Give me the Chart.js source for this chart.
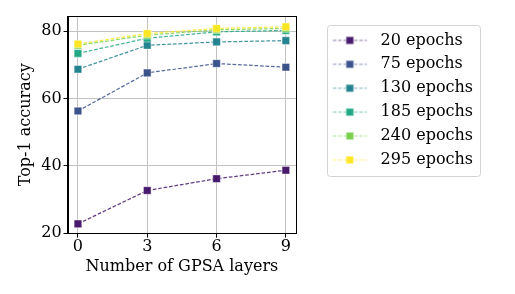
<!DOCTYPE html>
<html>
<head>
<meta charset="utf-8">
<script src="https://cdn.jsdelivr.net/npm/chart.js@4.4.0/dist/chart.umd.min.js"></script>
<style>
  html, body { margin: 0; padding: 0; background: #fff; }
  #wrap { width: 515px; height: 294px; }
</style>
</head>
<body>
<div id="wrap"><canvas id="chart" width="515" height="294"></canvas></div>
<script>
// x values (number of GPSA layers)
const layers = [0, 3, 6, 9];
const xTicks = [0, 3, 6, 9];
const yTicks = [20, 40, 60, 80];

const seriesNames = ['20 epochs', '75 epochs', '130 epochs', '185 epochs', '240 epochs', '295 epochs'];
const acc20 = [22.8, 32.7, 36.2, 38.7];
const acc75 = [56.3, 67.6, 70.4, 69.3];
const acc130 = [68.7, 75.8, 76.8, 77.2];
const acc185 = [73.4, 77.9, 79.8, 80.2];
const acc240 = [75.8, 78.8, 80.4, 80.8];
const acc295 = [76.2, 79.3, 80.8, 81.3];
const seriesColors = ['#471a6c', '#3b528b', '#23838e', '#22a884', '#7ad151', '#fde725'];

const allSeries = [acc20, acc75, acc130, acc185, acc240, acc295];
const FONT = "'DejaVu Serif', 'Liberation Serif', serif";

Chart.defaults.font.family = FONT;
Chart.defaults.font.size = 16;
Chart.defaults.color = '#000';

function hexA(hex, a) {
  const n = parseInt(hex.slice(1), 16);
  return `rgba(${n >> 16}, ${(n >> 8) & 255}, ${n & 255}, ${a})`;
}

// legend marker: dashed line with a square in the middle
const LEG_W = 100, LEG_H = 12, LEG_CX = 61.5;
function legendMarker(color) {
  const c = document.createElement('canvas');
  c.width = LEG_W; c.height = LEG_H;
  const g = c.getContext('2d');
  g.strokeStyle = hexA(color, 0.6);
  g.lineWidth = 1.2;
  g.setLineDash([3.5, 1.8]);
  g.beginPath();
  g.moveTo(LEG_CX - 17, LEG_H / 2);
  g.lineTo(LEG_CX + 17, LEG_H / 2);
  g.stroke();
  g.setLineDash([]);
  g.fillStyle = color;
  g.fillRect(LEG_CX - 3.8, LEG_H / 2 - 3.8, 7.6, 7.6);
  g.strokeStyle = 'rgba(255,255,255,0.5)';
  g.lineWidth = 1;
  g.strokeRect(LEG_CX - 3.8, LEG_H / 2 - 3.8, 7.6, 7.6);
  return c;
}
const markers = seriesColors.map(legendMarker);

const datasets = allSeries.map((vals, i) => ({
  label: seriesNames[i],
  data: vals.map((v, j) => ({ x: layers[j], y: v })),
  borderColor: hexA(seriesColors[i], 0.85),
  borderWidth: 1.25,
  borderDash: [3.7, 1.8],
  pointStyle: 'rect',
  pointRadius: 5.4,
  pointBackgroundColor: seriesColors[i],
  pointBorderColor: 'rgba(255,255,255,0.45)',
  pointBorderWidth: 1,
  order: allSeries.length - 1 - i,
  fill: false,
  tension: 0
}));

// let the legend be as wide as its labels (layout caps it at a quarter of the width otherwise)
const legendWidthPlugin = {
  id: 'legendWidth',
  beforeUpdate(chart) {
    const lg = chart.legend;
    if (!lg || lg._widthPatched) return;
    const fit = lg.fit.bind(lg);
    lg.fit = function () {
      this.maxWidth = 400;
      fit();
      if (this.columnSizes && this.columnSizes.length) {
        this.width = this.options.labels.padding + this.columnSizes[0].width;
      }
    };
    lg._widthPatched = true;
  }
};

// top/right spines and legend frame
const framePlugin = {
  id: 'frame',
  beforeDraw(chart) {
    const lg = chart.legend;
    if (!lg || !lg.legendHitBoxes.length) return;
    const hb = lg.legendHitBoxes;
    const left = hb[0].left + 23;
    const top = hb[0].top - 7.5;
    const last = hb[hb.length - 1];
    const right = Math.max(...hb.map(h => h.left + h.width)) + 7;
    const bottom = last.top + last.height + 7.5;
    const ctx = chart.ctx;
    ctx.save();
    ctx.fillStyle = '#fff';
    ctx.strokeStyle = '#d4d4d4';
    ctx.lineWidth = 1;
    ctx.beginPath();
    ctx.roundRect(Math.round(left) + 0.5, Math.round(top) + 0.5, Math.round(right - left), Math.round(bottom - top), 3);
    ctx.fill();
    ctx.stroke();
    ctx.restore();
  },
  afterDraw(chart) {
    const a = chart.chartArea;
    const ctx = chart.ctx;
    ctx.save();
    ctx.strokeStyle = '#000';
    ctx.lineWidth = 1;
    ctx.strokeRect(Math.round(a.left) + 0.5, Math.round(a.top) + 0.5,
      Math.round(a.right - a.left) - 1, Math.round(a.bottom - a.top) - 1);
    ctx.restore();
  }
};

new Chart(document.getElementById('chart'), {
  type: 'line',
  data: { datasets },
  options: {
    responsive: false,
    animation: false,
    layout: { padding: { left: 10, right: 42, top: 16, bottom: 18 } },
    plugins: {
      tooltip: { enabled: false },
      legend: {
        position: 'right',
        align: 'start',
        title: { display: true, text: '', padding: { top: 7.5, bottom: 0 }, font: { size: 1, lineHeight: 1 } },
        labels: {
          usePointStyle: true,
          pointStyleWidth: 68.4,
          padding: 7.9,
          font: { size: 16 },
          color: '#000',
          sort: (a, b) => a.datasetIndex - b.datasetIndex,
          generateLabels(chart) {
            const items = Chart.defaults.plugins.legend.labels.generateLabels(chart);
            items.forEach(it => { it.pointStyle = markers[it.datasetIndex]; });
            return items;
          }
        }
      }
    },
    scales: {
      x: {
        type: 'linear',
        min: -0.45,
        max: 9.45,
        afterBuildTicks: axis => { axis.ticks = xTicks.map(v => ({ value: v })); },
        ticks: { padding: 0, font: { size: 16 }, maxRotation: 0 },
        grid: { color: '#c2c2c2', lineWidth: 1, tickColor: '#000', tickLength: 4 },
        border: { color: '#000', width: 1 },
        title: { display: true, text: 'Number of GPSA layers', font: { size: 16 }, padding: { top: 0, bottom: 0 } }
      },
      y: {
        min: 19.9,
        max: 84.5,
        afterBuildTicks: axis => { axis.ticks = yTicks.map(v => ({ value: v })); },
        ticks: { padding: 2, font: { size: 16 } },
        grid: { color: '#c2c2c2', lineWidth: 1, tickColor: '#000', tickLength: 4 },
        border: { color: '#000', width: 1 },
        title: { display: true, text: 'Top-1 accuracy', font: { size: 16 }, padding: { top: 6, bottom: 4 } }
      }
    }
  },
  plugins: [legendWidthPlugin, framePlugin]
});
</script>
</body>
</html>
